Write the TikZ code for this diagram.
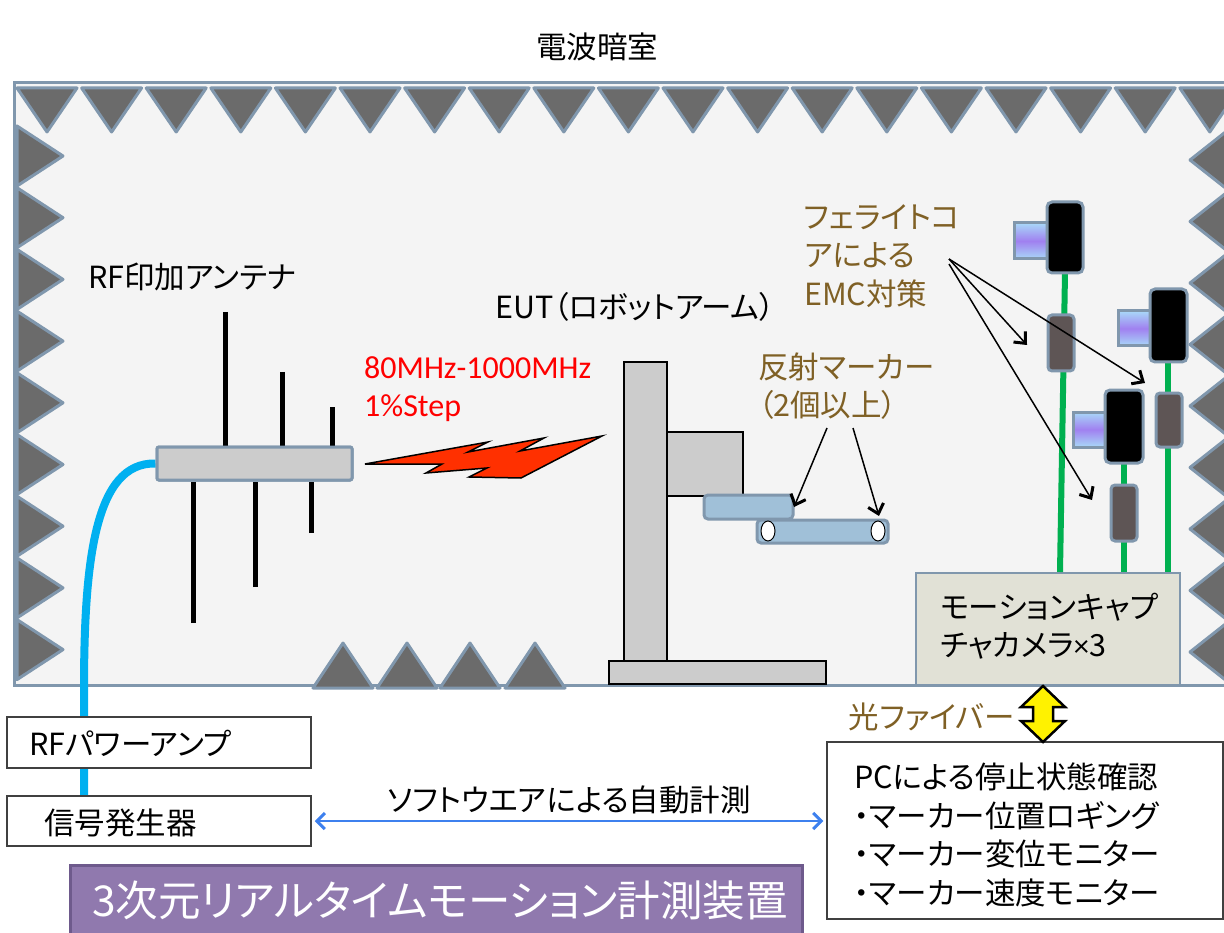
\documentclass[tikz,border=0pt]{standalone}
\usepackage{fontspec}
\setmainfont{Noto Sans CJK JP}[RawFeature=+palt]
\newfontfamily\latinfont{Carlito}
\usetikzlibrary{arrows.meta, calc}

\begin{document}
\begin{tikzpicture}[x=1pt, y=-1pt,
    txt/.style={font=\fontsize{30.5}{38.5}\selectfont, inner sep=0pt},
    box/.style={draw=boxLine, line width=1.5pt, fill=white, inner sep=0pt},
    absorber/.style={fill=absorberFill, draw=wallLine, line width=3pt, line join=round},
    element/.style={line width=5pt},
    camBody/.style={fill=black, draw=wallLine, line width=3pt, rounded corners=5pt},
    lens/.style={top color=lensBlue, bottom color=lensBlue, middle color=lensPurple, draw=wallLine, line width=3pt},
    ferrite/.style={fill=ferriteFill, draw=wallLine, line width=3pt, rounded corners=4pt},
    camCable/.style={draw=cableGreen, line width=6pt},
    pointer/.style={-{Straight Barb[length=9pt, width=16pt, line width=3pt]}, line width=1.5pt},
    robot/.style={fill=robotGray, draw=black, line width=1.5pt},
    armPart/.style={fill=armBlue, draw=wallLine, line width=3pt, rounded corners=4pt}
]
    % Define colours
    \definecolor{wallLine}{HTML}{8097AD}
    \definecolor{absorberFill}{HTML}{6B6B6B}
    \definecolor{chamberFill}{HTML}{F4F4F4}
    \definecolor{boxLine}{HTML}{404040}
    \definecolor{cableBlue}{HTML}{00B0F0}
    \definecolor{cableGreen}{HTML}{00B050}
    \definecolor{robotGray}{HTML}{CCCCCC}
    \definecolor{armBlue}{HTML}{A0C0D8}
    \definecolor{ferriteFill}{HTML}{5E5555}
    \definecolor{lensBlue}{HTML}{A8D8F8}
    \definecolor{lensPurple}{HTML}{A080F0}
    \definecolor{mocapFill}{HTML}{E1E1D6}
    \definecolor{noteBrown}{HTML}{7F6025}
    \definecolor{boltRed}{HTML}{FF3000}
    \definecolor{purpleFill}{HTML}{9079AE}
    \definecolor{purpleLine}{HTML}{6E5A8C}
    \definecolor{linkBlue}{HTML}{3D80EE}

    \useasboundingbox (0,0) rectangle (1224,933);

    % Anechoic chamber
    \node[txt] (chamber) at (597,47) {電波暗室};
    \draw[fill=chamberFill, draw=wallLine, line width=3pt] (14,83) rectangle (1240,685);

    % Absorbers along the walls
    \foreach \i in {0,...,18}
        \draw[absorber] ({17+64.6*\i},88) -- ++(60,0) -- ++(-30,44) -- cycle;
    \foreach \i in {0,...,8}
        \draw[absorber] (17,{126+61.7*\i}) -- ++(0,60) -- ++(46,-30) -- cycle;
    \foreach \i in {0,...,8}
        \draw[absorber] (1228,{130+61.5*\i}) -- ++(0,60) -- ++(-38,-30) -- cycle;
    \foreach \x in {313,377,440,505}
        \draw[absorber] (\x,688) -- ++(60,0) -- ++(-30,-45) -- cycle;

    % Antenna with its feed cable
    \node[fill=robotGray, draw=wallLine, line width=3pt, rounded corners=2pt,
          minimum width=195, minimum height=33, inner sep=0pt] (antenna) at (254.5,463.5) {};
    \draw[draw=cableBlue, line width=8pt] (antenna.west) .. controls (95,462) and (84,560) .. (84,690) -- (84,800);
    \draw[element] (225,312) -- (225,0 |- antenna.north);
    \draw[element] (282,372) -- (282,0 |- antenna.north);
    \draw[element] (332,407) -- (332,0 |- antenna.north);
    \draw[element] (193,623) -- (193,0 |- antenna.south);
    \draw[element] (255,587) -- (255,0 |- antenna.south);
    \draw[element] (311,533) -- (311,0 |- antenna.south);
    \node[fill=robotGray, draw=wallLine, line width=3pt, rounded corners=2pt,
          minimum width=195, minimum height=33, inner sep=0pt] at (antenna) {};
    \node[txt, anchor=west] (antlabel) at (88,277) {RF印加アンテナ};

    % Radiated field
    \draw[fill=boltRed, line width=1.5pt, line join=miter] (365,464) -- (488,442) -- (468,452) -- (544,438)
        -- (520,451) -- (602,436) -- (521,478) -- (469,477) -- (487,468) -- (426,473) -- (442,464) -- cycle;
    \node[txt, anchor=west, align=left, text=red, font=\latinfont\fontsize{32}{38}\selectfont] (sweep) at (364,389)
        {80MHz-1000MHz\\1\%Step};

    % Robot arm
    \node[txt, anchor=west] (eut) at (495,307) {EUT（ロボットアーム）};
    \draw[robot] (624,362) rectangle (667,661);
    \draw[robot] (667,432) rectangle (743,496);
    \draw[robot] (609,661) rectangle (826,684);
    \draw[armPart] (704,495) rectangle (793,519);
    \draw[armPart] (757,520) rectangle (888,543);
    \draw[fill=white, line width=1pt] (768,531) ellipse (7 and 10);
    \draw[fill=white, line width=1pt] (878,531) ellipse (7 and 10);

    % Reflective markers
    \node[txt, anchor=west, align=left, text=noteBrown] (markers) at (758,386) {反射マーカー\\（2個以上）};
    \coordinate (mk1) at (794,507);
    \coordinate (mk2) at (879,516);
    \draw[pointer] (827,428) -- (mk1);
    \draw[pointer] (853,428) -- (mk2);

    % Motion capture cameras
    \node[draw=wallLine, line width=2pt, fill=mocapFill, minimum width=264, minimum height=112,
          inner sep=0pt] (mocap) at (1048,629) {};
    \draw[camCable] (1065,273) -- (1060,0 |- mocap.north);
    \draw[camCable] (1168,362) -- (1168,0 |- mocap.north);
    \draw[camCable] (1124,463) -- (1124,0 |- mocap.north);
    \node[txt, anchor=west, align=left] (mocaptext) at (940,626) {モーションキャプ\\チャカメラ{\latinfont ×}3};

    \draw[lens] (1014,223) rectangle (1047,259);
    \draw[camBody] (1047,202) rectangle (1083,273);
    \draw[ferrite] (1048,315) rectangle (1074,371);

    \draw[lens] (1118,311) rectangle (1150,346);
    \draw[camBody] (1150,289) rectangle (1187,362);
    \draw[ferrite] (1156,393) rectangle (1182,447);

    \draw[lens] (1073,412) rectangle (1105,447);
    \draw[camBody] (1105,390) rectangle (1143,463);
    \draw[ferrite] (1111,485) rectangle (1137,541);

    % Ferrite cores
    \node[txt, anchor=west, align=left, text=noteBrown] (emc) at (804,256) {フェライトコ\\アによる\\EMC対策};
    \coordinate (emcsrc) at (949,259);
    \coordinate (fe1) at (1027,345);
    \coordinate (fe2) at (1145,383);
    \coordinate (fe3) at (1092,500);
    \draw[pointer] (emcsrc) -- (fe1);
    \draw[pointer] (emcsrc) -- (fe2);
    \draw[pointer] ([yshift=-5]emcsrc) -- (fe3);

    % Instruments outside the chamber
    \node[box, minimum width=304, minimum height=51] (amp) at (159,742.5) {};
    \node[txt, anchor=west] (amptext) at (29,743) {RFパワーアンプ};
    \node[box, minimum width=304, minimum height=50] (siggen) at (159,821) {};
    \node[txt, anchor=west] (siggentext) at (44,823) {信号発生器};

    \node[box, minimum width=396, minimum height=177] (pc) at (1025,830.5) {};
    \node[txt, anchor=west, align=left] (pctext) at (854,835)
        {PCによる停止状態確認\\・マーカー位置ロギング\\・マーカー変位モニター\\・マーカー速度モニター};

    % Optical fibre link
    \coordinate (ftop) at (1043,0 |- mocap.south);
    \draw[fill=yellow, line width=2.5pt, line join=miter] (ftop) -- ++(22,21) -- ++(-12,0) -- ++(0,14)
        -- ++(12,0) -- ++(-22,21) -- ++(-22,-21) -- ++(12,0) -- ++(0,-14) -- ++(-12,0) -- cycle;
    \node[txt, anchor=east, text=noteBrown] (fibre) at (1015,717) {光ファイバー};

    % Software control link
    \draw[linkBlue, line width=2pt, {Straight Barb[length=8pt, width=16pt, line width=3pt]}-{Straight Barb[length=8pt, width=16pt, line width=3pt]}]
        ([xshift=3]siggen.east) -- ([xshift=-3]siggen.east -| pc.west)
        node[txt, midway, above=6pt, text=black] (softlabel) {ソフトウエアによる自動計測};

    % System name
    \node[fill=purpleFill, draw=purpleLine, line width=3pt, minimum width=732, minimum height=80,
          inner sep=0pt] (system) at (436,905) {};
    \node[txt, text=white, font=\fontsize{42.5}{43}\selectfont] (systext) at (440,900) {3次元リアルタイムモーション計測装置};
\end{tikzpicture}
\end{document}
